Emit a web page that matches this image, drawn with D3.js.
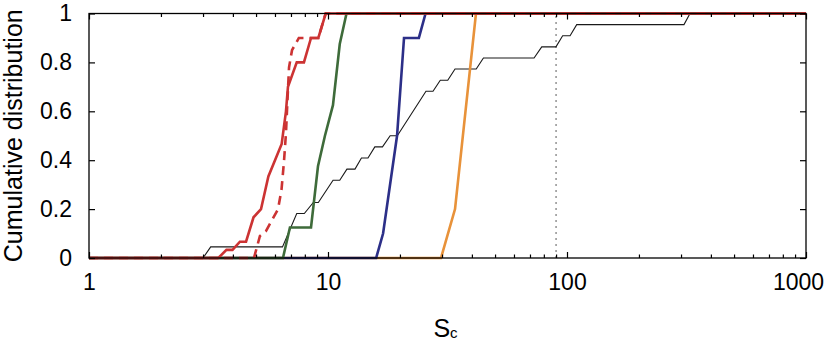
<!DOCTYPE html>
<html>
<head>
<meta charset="utf-8">
<script src="https://cdn.jsdelivr.net/npm/d3@7"></script>
<style>
  html, body { margin: 0; padding: 0; background: #fff; }
  svg { display: block; }
  text { font-family: "Liberation Sans", Arial, Helvetica, sans-serif; fill: #000; }
</style>
</head>
<body>
<svg id="chart" width="828" height="350"></svg>
<script>
// ---- data ----
const xTickValues = [1, 10, 100, 1000];
const xTickLabels = ["1", "10", "100", "1000"];
const yTickValues = [0, 0.2, 0.4, 0.6, 0.8, 1];
const yTickLabels = ["0", "0.2", "0.4", "0.6", "0.8", "1"];
const xLabel = "S";
const xLabelSub = "c";
const yLabel = "Cumulative distribution";
const thresholdSc = 90;

// black thin curve
const blackX = [1, 3.0, 3.23, 6.45, 7.40, 7.96, 8.68, 9.11, 10.5, 11.2, 12.0, 12.97, 13.8, 14.7, 15.7, 16.9, 18.2, 19.5, 25.7, 27.5, 29.5, 31.7, 34.0, 41.7, 44.7, 72.8, 78.4, 89.9, 95.9, 103, 109.8, 308.7, 327, 1000];
const blackY = [0, 0, 1/22, 1/22, 4/22, 4/22, 5/22, 5/22, 7/22, 7/22, 8/22, 8/22, 9/22, 9/22, 10/22, 10/22, 11/22, 11/22, 15/22, 15/22, 16/22, 16/22, 17/22, 17/22, 18/22, 18/22, 19/22, 19/22, 20/22, 20/22, 21/22, 21/22, 1, 1];

// orange
const orangeX = [1, 29.7, 34.0, 41.6, 1000];
const orangeY = [0, 0, 0.2, 1, 1];

// navy
const blueX = [1, 15.9, 17.0, 19.45, 20.8, 24.0, 25.6, 1000];
const blueY = [0, 0, 0.1, 0.5, 0.9, 0.9, 1, 1];

// dark green
const greenX = [1, 6.48, 6.93, 8.49, 9.08, 9.71, 10.49, 11.2, 11.95, 1000];
const greenY = [0, 0, 0.125, 0.125, 0.375, 0.5, 0.625, 0.875, 1, 1];

// red dashed
const redDashX = [1, 4.90, 5.19, 5.50, 5.83, 6.18, 6.39, 6.55, 6.67, 6.77, 6.87, 7.07, 7.55, 9.11, 9.78, 1000];
const redDashY = [0, 0, 0.09, 0.11, 0.155, 0.2, 0.28, 0.4, 0.51, 0.65, 0.78, 0.85, 0.9, 0.9, 1, 1];

// red solid
const redX = [1, 3.475, 3.76, 3.985, 4.28, 4.54, 4.88, 5.245, 5.63, 6.40, 6.67, 6.80, 7.40, 7.93, 8.49, 9.11, 9.78, 1000];
const redY = [0, 0, 1/30, 1/30, 2/30, 2/30, 5/30, 6/30, 10/30, 14/30, 0.6, 0.7, 0.8, 0.8, 0.9, 0.9, 1, 1];

// ---- drawing ----
const svg = d3.select("#chart");
const L = 89, R = 806, T = 13.5, B = 258;
const x = d3.scaleLog().domain([1, 1000]).range([L, R]);
const y = d3.scaleLinear().domain([0, 1]).range([B, T]);

const zip = (xs, ys) => xs.map((v, i) => [v, ys[i]]);
const line = d3.line().x(d => x(d[0])).y(d => y(d[1]));

// threshold dotted line
svg.append("line")
  .attr("x1", x(thresholdSc)).attr("x2", x(thresholdSc))
  .attr("y1", y(0)).attr("y2", y(1))
  .attr("stroke", "#8a8a8a").attr("stroke-width", 1.4)
  .attr("stroke-dasharray", "2,4");

const series = [
  { xs: blackX, ys: blackY, color: "#1a1a1a", w: 1.1, dash: null },
  { xs: orangeX, ys: orangeY, color: "#e8923a", w: 2.6, dash: null },
  { xs: blueX, ys: blueY, color: "#2c2f88", w: 2.6, dash: null },
  { xs: greenX, ys: greenY, color: "#3e6b3a", w: 2.6, dash: null },
  { xs: redDashX, ys: redDashY, color: "#cc3333", w: 2.6, dash: "9,6" },
  { xs: redX, ys: redY, color: "#cc3333", w: 2.6, dash: null }
];
series.forEach(s => {
  svg.append("path")
    .datum(zip(s.xs, s.ys))
    .attr("d", line)
    .attr("fill", "none")
    .attr("stroke", s.color)
    .attr("stroke-width", s.w)
    .attr("stroke-linejoin", "miter")
    .attr("stroke-dasharray", s.dash);
});

// minor x ticks
const minor = [];
[1, 10, 100].forEach(d => { for (let k = 2; k <= 9; k++) minor.push(d * k); });

const axG = svg.append("g");
function styleAxis(g) {
  g.select(".domain").remove();
  g.selectAll(".tick line").attr("stroke", "#000").attr("stroke-width", 1.2);
}
// bottom major + labels
axG.append("g").attr("transform", `translate(0,${B})`)
  .call(d3.axisBottom(x).tickValues(xTickValues).tickSizeInner(-6).tickSizeOuter(0)
        .tickPadding(14).tickFormat((d, i) => xTickLabels[i]))
  .call(styleAxis)
  .call(g => g.selectAll("text").attr("font-size", 23).attr("fill", "#000")
        .attr("font-family", "Liberation Sans, Arial, sans-serif")
        .attr("dy", "0.71em")
        .attr("y", 16)
        .attr("dx", (d, i) => i === xTickLabels.length - 1 ? -8 : 0));
// bottom minor
axG.append("g").attr("transform", `translate(0,${B})`)
  .call(d3.axisBottom(x).tickValues(minor).tickSizeInner(-3.5).tickSizeOuter(0).tickFormat(""))
  .call(styleAxis);
// top major + minor
axG.append("g").attr("transform", `translate(0,${T})`)
  .call(d3.axisTop(x).tickValues(xTickValues).tickSizeInner(-6).tickSizeOuter(0).tickFormat(""))
  .call(styleAxis);
axG.append("g").attr("transform", `translate(0,${T})`)
  .call(d3.axisTop(x).tickValues(minor).tickSizeInner(-3.5).tickSizeOuter(0).tickFormat(""))
  .call(styleAxis);
// left y
axG.append("g").attr("transform", `translate(${L},0)`)
  .call(d3.axisLeft(y).tickValues(yTickValues).tickSizeInner(-6).tickSizeOuter(0)
        .tickPadding(17).tickFormat((d, i) => yTickLabels[i]))
  .call(styleAxis)
  .call(g => g.selectAll("text").attr("font-size", 23).attr("fill", "#000")
        .attr("font-family", "Liberation Sans, Arial, sans-serif")
        .attr("x", -17));
// right y
axG.append("g").attr("transform", `translate(${R},0)`)
  .call(d3.axisRight(y).tickValues(yTickValues).tickSizeInner(-6).tickSizeOuter(0).tickFormat(""))
  .call(styleAxis);

// frame
svg.append("rect")
  .attr("x", L).attr("y", T).attr("width", R - L).attr("height", B - T)
  .attr("fill", "none").attr("stroke", "#000").attr("stroke-width", 1.3);

// axis titles
const xt = svg.append("text")
  .attr("x", (L + R) / 2 - 2).attr("y", 337)
  .attr("text-anchor", "middle").attr("font-size", 25);
xt.append("tspan").text(xLabel);
xt.append("tspan").attr("font-size", 15).attr("dy", 1).text(xLabelSub);

svg.append("text")
  .attr("transform", `translate(22,${(T + B) / 2}) rotate(-90)`)
  .attr("text-anchor", "middle").attr("font-size", 25)
  .text(yLabel);
</script>
</body>
</html>
